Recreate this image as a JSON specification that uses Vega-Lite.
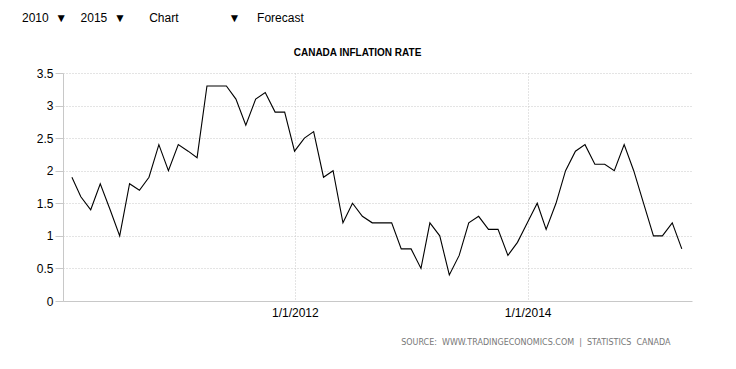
{
  "$schema": "https://vega.github.io/schema/vega-lite/v6.json",
  "background": "white",
  "padding": {"left": 22, "top": 12, "right": 44, "bottom": 5},
  "config": {"view": {"stroke": null}, "font": "Liberation Sans"},
  "title": {
    "text": "2010\u00a0\u00a0▼\u00a0\u00a0\u00a0\u00a02015\u00a0\u00a0▼\u00a0\u00a0\u00a0\u00a0\u00a0\u00a0\u00a0Chart\u00a0\u00a0\u00a0\u00a0\u00a0\u00a0\u00a0\u00a0\u00a0\u00a0\u00a0\u00a0\u00a0\u00a0\u00a0▼\u00a0\u00a0\u00a0\u00a0\u00a0Forecast",
    "anchor": "start",
    "font": "Liberation Sans",
    "fontSize": 12,
    "fontWeight": "normal",
    "color": "#000000",
    "offset": 23
  },
  "vconcat": [
    {
      "width": 629,
      "height": 228,
      "title": {
        "text": "CANADA INFLATION RATE",
        "font": "Liberation Sans",
        "fontSize": 10,
        "fontWeight": "bold",
        "color": "#000000",
        "anchor": "middle",
        "dx": -20,
        "offset": 9
      },
      "data": {
        "values": [
          {"date": "2010-01-31", "rate": 1.9},
          {"date": "2010-02-28", "rate": 1.6},
          {"date": "2010-03-31", "rate": 1.4},
          {"date": "2010-04-30", "rate": 1.8},
          {"date": "2010-05-31", "rate": 1.4},
          {"date": "2010-06-30", "rate": 1.0},
          {"date": "2010-07-31", "rate": 1.8},
          {"date": "2010-08-31", "rate": 1.7},
          {"date": "2010-09-30", "rate": 1.9},
          {"date": "2010-10-31", "rate": 2.4},
          {"date": "2010-11-30", "rate": 2.0},
          {"date": "2010-12-31", "rate": 2.4},
          {"date": "2011-01-31", "rate": 2.3},
          {"date": "2011-02-28", "rate": 2.2},
          {"date": "2011-03-31", "rate": 3.3},
          {"date": "2011-04-30", "rate": 3.3},
          {"date": "2011-05-31", "rate": 3.3},
          {"date": "2011-06-30", "rate": 3.1},
          {"date": "2011-07-31", "rate": 2.7},
          {"date": "2011-08-31", "rate": 3.1},
          {"date": "2011-09-30", "rate": 3.2},
          {"date": "2011-10-31", "rate": 2.9},
          {"date": "2011-11-30", "rate": 2.9},
          {"date": "2011-12-31", "rate": 2.3},
          {"date": "2012-01-31", "rate": 2.5},
          {"date": "2012-02-29", "rate": 2.6},
          {"date": "2012-03-31", "rate": 1.9},
          {"date": "2012-04-30", "rate": 2.0},
          {"date": "2012-05-31", "rate": 1.2},
          {"date": "2012-06-30", "rate": 1.5},
          {"date": "2012-07-31", "rate": 1.3},
          {"date": "2012-08-31", "rate": 1.2},
          {"date": "2012-09-30", "rate": 1.2},
          {"date": "2012-10-31", "rate": 1.2},
          {"date": "2012-11-30", "rate": 0.8},
          {"date": "2012-12-31", "rate": 0.8},
          {"date": "2013-01-31", "rate": 0.5},
          {"date": "2013-02-28", "rate": 1.2},
          {"date": "2013-03-31", "rate": 1.0},
          {"date": "2013-04-30", "rate": 0.4},
          {"date": "2013-05-31", "rate": 0.7},
          {"date": "2013-06-30", "rate": 1.2},
          {"date": "2013-07-31", "rate": 1.3},
          {"date": "2013-08-31", "rate": 1.1},
          {"date": "2013-09-30", "rate": 1.1},
          {"date": "2013-10-31", "rate": 0.7},
          {"date": "2013-11-30", "rate": 0.9},
          {"date": "2013-12-31", "rate": 1.2},
          {"date": "2014-01-31", "rate": 1.5},
          {"date": "2014-02-28", "rate": 1.1},
          {"date": "2014-03-31", "rate": 1.5},
          {"date": "2014-04-30", "rate": 2.0},
          {"date": "2014-05-31", "rate": 2.3},
          {"date": "2014-06-30", "rate": 2.4},
          {"date": "2014-07-31", "rate": 2.1},
          {"date": "2014-08-31", "rate": 2.1},
          {"date": "2014-09-30", "rate": 2.0},
          {"date": "2014-10-31", "rate": 2.4},
          {"date": "2014-11-30", "rate": 2.0},
          {"date": "2014-12-31", "rate": 1.5},
          {"date": "2015-01-31", "rate": 1.0},
          {"date": "2015-02-28", "rate": 1.0},
          {"date": "2015-03-31", "rate": 1.2},
          {"date": "2015-04-30", "rate": 0.8}
        ]
      },
      "mark": {"type": "line", "color": "#000000", "strokeWidth": 1.1},
      "encoding": {
        "x": {
          "field": "date",
          "type": "temporal",
          "scale": {"domain": [{"year": 2010, "month": 1, "date": 3}, {"year": 2015, "month": 6, "date": 1}]},
          "axis": {
            "values": [{"year": 2012, "month": 1, "date": 1}, {"year": 2014, "month": 1, "date": 1}],
            "format": "%-m/%-d/%Y",
            "ticks": false,
            "labelPadding": 6,
            "labelFont": "Liberation Sans",
            "labelFontSize": 12,
            "labelColor": "#000000",
            "domainColor": "#c8c8c8",
            "gridColor": "#c8c8c8",
            "gridDash": [1, 2],
            "gridOpacity": 1,
            "title": "SOURCE:\u00a0\u00a0WWW.TRADINGECONOMICS.COM\u00a0\u00a0|\u00a0\u00a0STATISTICS\u00a0\u00a0CANADA",
            "titleFont": "DejaVu Sans",
            "titleFontSize": 8,
            "titleFontWeight": "normal",
            "titleColor": "#777777",
            "titleAlign": "right",
            "titleBaseline": "top",
            "titleX": 607,
            "titleY": 37
          }
        },
        "y": {
          "field": "rate",
          "type": "quantitative",
          "scale": {"domain": [0, 3.5]},
          "axis": {
            "values": [0, 0.5, 1, 1.5, 2, 2.5, 3, 3.5],
            "format": "~g",
            "title": null,
            "tickSize": 8,
            "tickColor": "#c8c8c8",
            "labelPadding": 2,
            "labelFont": "Liberation Sans",
            "labelFontSize": 12,
            "labelColor": "#000000",
            "domainColor": "#c8c8c8",
            "gridColor": "#c8c8c8",
            "gridDash": [1, 2],
            "gridOpacity": 1,
            "minExtent": 41,
            "maxExtent": 41
          }
        }
      }
    }
  ]
}
